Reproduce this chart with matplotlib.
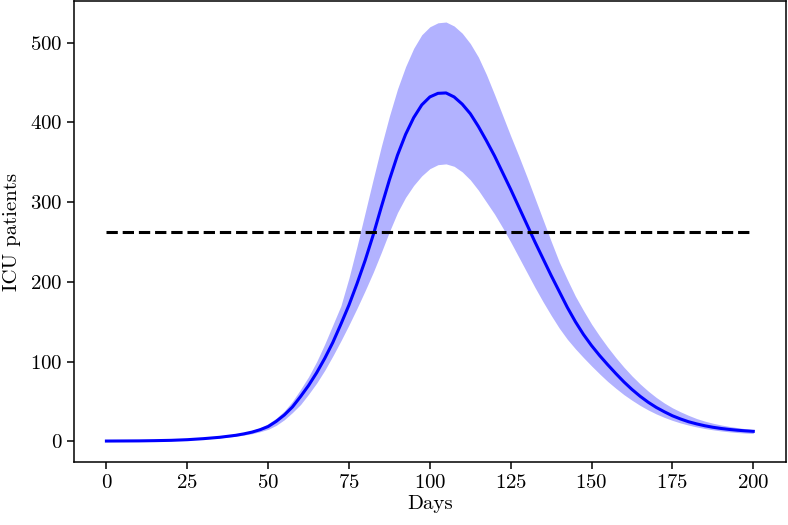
import matplotlib
matplotlib.use("Agg")
import matplotlib.pyplot as plt

plt.rcParams['font.family'] = 'serif'
plt.rcParams['font.serif'] = ['cmr10', 'DejaVu Serif']
plt.rcParams['axes.formatter.use_mathtext'] = True
plt.rcParams['mathtext.fontset'] = 'cm'

days = [0, 5, 10, 15, 20, 25, 30, 35, 40,
        42.5, 45, 47.5, 50, 52.5, 55, 57.5, 60, 62.5, 65,
        67.5, 70, 72.5, 75, 77.5, 80, 82.5, 85, 87.5, 90,
        92.5, 95, 97.5, 100, 102.5, 105, 107.5, 110, 112.5, 115,
        117.5, 120, 122.5, 125, 127.5, 130, 132.5, 135, 137.5, 140,
        142.5, 145, 147.5, 150, 152.5, 155, 157.5, 160, 162.5, 165,
        167.5, 170, 172.5, 175, 177.5, 180, 182.5, 185, 187.5, 190,
        192.5, 195, 197.5, 200]

icu_mean = [0.3, 0.4, 0.5, 0.8, 1.2, 2.0, 3.3, 5.0, 7.5,
            9.3, 11.5, 14.5, 18.5, 25, 33, 43, 56, 70, 86,
            104, 124, 147, 171, 198, 227, 259, 294, 328, 359,
            385, 406, 422, 432, 436.5, 437, 432, 423, 411, 395,
            377, 358, 337, 316, 294, 272, 250, 229, 208, 188,
            168, 150, 134, 120, 107.5, 96, 85, 74.5, 65, 56.5,
            49, 42.5, 37, 32, 28, 24.5, 21.8, 19.5, 17.6, 16.1,
            14.9, 13.9, 13.1, 12.5]

icu_upper = [0.3, 0.4, 0.6, 0.9, 1.4, 2.3, 3.8, 6.0, 9.0,
             11, 13.5, 17, 22, 29, 38, 50, 65, 81, 100,
             122, 146, 170, 205, 245, 287, 329, 370, 408, 442,
             470, 493, 510, 520, 525, 526, 521, 512, 499, 482,
             460, 435, 409, 383, 358, 332, 305, 278, 251, 225,
             203, 182, 164, 147, 132, 118, 105, 93, 82, 72,
             63, 55, 48, 42, 37, 32.5, 28.5, 25.3, 22.7, 20.5,
             18.7, 17.2, 15.8, 14.6]

icu_lower = [0.3, 0.4, 0.5, 0.7, 1.0, 1.7, 2.8, 4.2, 6.3,
             7.8, 9.5, 12, 15, 20, 27, 36, 46, 59, 73,
             89, 107, 126, 146, 167, 189, 212, 237, 263, 287,
             306, 321, 333, 342, 347, 348, 345, 338, 328, 315,
             300, 285, 268, 250, 231, 212, 193, 175, 158, 142,
             128, 116, 105, 94.5, 84.5, 75, 66.5, 58.5, 51.5, 45,
             39.3, 34.3, 30, 26.2, 23, 20.3, 18, 16, 14.4, 13,
             11.9, 11, 10.3, 9.7]

capacity = 263
x_ticks = [0, 25, 50, 75, 100, 125, 150, 175, 200]
y_ticks = [0, 100, 200, 300, 400, 500]

fig = plt.figure(figsize=(7.88, 5.25), dpi=100)
ax = fig.add_axes([0.094, 0.12, 0.903, 0.878])

ax.fill_between(days, icu_lower, icu_upper, color='blue', alpha=0.3, linewidth=0)
ax.plot(days, icu_mean, color='blue', linewidth=2.2)
ax.plot([days[0], days[-1]], [capacity, capacity], 'k--', linewidth=2.2)

ax.set_xticks(x_ticks)
ax.set_yticks(y_ticks)
ax.tick_params(labelsize=15, length=5, width=1.1)
for s in ax.spines.values():
    s.set_linewidth(1.1)
ax.set_xlabel('Days', fontsize=15, labelpad=2)
ax.set_ylabel('ICU patients', fontsize=15, labelpad=6)

fig.savefig('out.png', dpi=100)
